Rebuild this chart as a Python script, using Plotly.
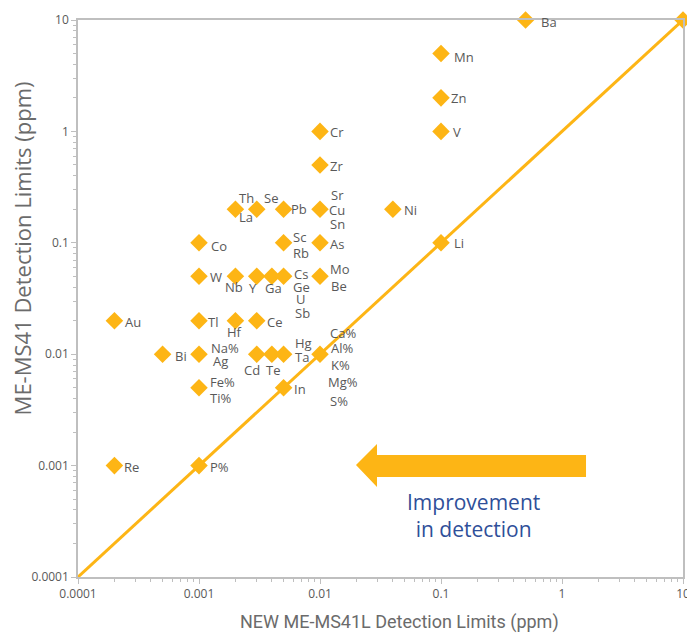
import numpy as np
import plotly.graph_objects as go

# ---- data ----
point_x = [10, 0.5, 0.1, 0.1, 0.1, 0.01, 0.01, 0.01, 0.04, 0.01, 0.1, 0.01,
           0.005, 0.002, 0.003, 0.001, 0.005, 0.001, 0.002, 0.003, 0.004, 0.005,
           0.0002, 0.001, 0.002, 0.003, 0.0005, 0.001, 0.003, 0.004, 0.005, 0.01,
           0.001, 0.005, 0.0002, 0.001]
point_y = [10, 10, 5, 2, 1, 1, 0.5, 0.2, 0.2, 0.1, 0.1, 0.05,
           0.2, 0.2, 0.2, 0.1, 0.1, 0.05, 0.05, 0.05, 0.05, 0.05,
           0.02, 0.02, 0.02, 0.02, 0.01, 0.01, 0.01, 0.01, 0.01, 0.01,
           0.005, 0.005, 0.001, 0.001]
point_labels = [["B"], ["Ba"], ["Mn"], ["Zn"], ["V"], ["Cr"], ["Zr"], ["Sr", "Cu", "Sn"],
                ["Ni"], ["As"], ["Li"], ["Mo", "Be"],
                ["Pb"], ["Th", "La"], ["Se"], ["Co"], ["Sc", "Rb"], ["W"], ["Nb"], ["Y"],
                ["Ga"], ["Cs", "Ge", "U", "Sb"],
                ["Au"], ["Tl"], ["Hf"], ["Ce"], ["Bi"], ["Na%", "Ag"], ["Cd"], ["Te"],
                ["Hg", "Ta"], ["Ca%", "Al%", "K%", "Mg%", "S%"],
                ["Fe%", "Ti%"], ["In"], ["Re"], ["P%"]]
parity_x = [0.0001, 10]
parity_y = [0.0001, 10]
tick_vals = [0.0001, 0.001, 0.01, 0.1, 1, 10]
tick_text = ["0.0001", "0.001", "0.01", "0.1", "1", "10"]
minor_vals = [m * d for d in [0.0001, 0.001, 0.01, 0.1, 1] for m in range(2, 10)]

x_title = "NEW ME-MS41L Detection Limits (ppm)"
y_title = "ME-MS41 Detection Limits (ppm)"
note_text = "Improvement<br>in detection"

# ---- label placement (pixels: left-edge dx, downward dy; "c" = centred) ----
label_offsets = {
    "B": (10, 2), "Ba": (13, 2), "Mn": (11, 3), "Zn": (8, 0), "V": (10, 1),
    "Cr": (8, 1), "Zr": (8, 1), "Sr": (9, -14), "Cu": (7, 1), "Sn": (8, 15),
    "Ni": (9, 1), "As": (8, 1), "Li": (11, 0), "Mo": (8, -7), "Be": (9, 10),
    "Pb": (5, 0), "Th": (2, -11), "La": (2, 8), "Se": (5, -11), "Co": (10, 3),
    "Sc": (7, -6), "Rb": (7, 10), "W": (9, 1), "Nb": ("c", -1, 11),
    "Y": ("c", -4, 12), "Ga": ("c", 2, 12), "Cs": (8, -2), "Ge": (7, 11),
    "U": (10, 23), "Sb": (9, 37), "Au": (9, 1), "Tl": (7, 1), "Hf": ("c", -1, 11),
    "Ce": (8, 1), "Bi": (10, 2), "Na%": (10, -6), "Ag": (12, 7),
    "Cd": ("c", -5, 16), "Te": ("c", 1, 16), "Hg": (9, -11), "Ta": (9, 3),
    "Ca%": (8, -21), "Al%": (9, -6), "K%": (9, 11), "Mg%": (6, 28), "S%": (8, 47),
    "Fe%": (9, -6), "Ti%": (9, 10), "In": (8, 1), "Re": (8, 1), "P%": (9, 1),
}

ORANGE = "#FDB515"
GREY_TXT = "#595959"
TITLE_GREY = "#6B6B6B"
AXIS_GREY = "#BFBFBF"
FONT = "Open Sans"

fig = go.Figure()
fig.add_trace(go.Scatter(x=parity_x, y=parity_y, mode="lines",
                         line=dict(color=ORANGE, width=3), hoverinfo="skip",
                         showlegend=False, cliponaxis=False))
fig.add_trace(go.Scatter(x=point_x, y=point_y, mode="markers",
                         marker=dict(symbol="diamond", size=13.5, color=ORANGE,
                                     line=dict(width=0)),
                         showlegend=False, cliponaxis=False))

annotations = []
for px, py, labs in zip(point_x, point_y, point_labels):
    for lab in labs:
        off = label_offsets[lab]
        if off[0] == "c":
            xanchor, dx, dy = "center", off[1], off[2]
        else:
            xanchor, dx, dy = "left", off[0], off[1]
        annotations.append(dict(
            x=np.log10(px), y=np.log10(py), xref="x", yref="y", text=lab,
            showarrow=False, xanchor=xanchor, yanchor="middle",
            xshift=dx, yshift=-dy,
            font=dict(family=FONT, size=13, color=GREY_TXT)))

annotations.append(dict(
    x=0.653, y=0.11, xref="paper", yref="paper",
    text=note_text, showarrow=False,
    xanchor="center", yanchor="middle", align="center",
    font=dict(family=FONT, size=21, color="#2F4F99")))

# axis titles (placed as in the reference)
annotations.append(dict(
    x=0.532, y=-0.081, xref="paper", yref="paper", text=x_title,
    showarrow=False, xanchor="center", yanchor="middle",
    font=dict(family="Roboto", size=18, color=TITLE_GREY)))
annotations.append(dict(
    x=-0.0925, y=0.59, xref="paper", yref="paper", text=y_title,
    showarrow=False, xanchor="center", yanchor="middle", textangle=-90,
    font=dict(family=FONT, size=22, color=TITLE_GREY)))

# block arrow (paper coordinates)
arrow_path = ("M 0.4595 0.2011 L 0.4942 0.2388 L 0.4942 0.2190 L 0.8397 0.2190 "
              "L 0.8397 0.1795 L 0.4942 0.1795 L 0.4942 0.1616 Z")

axis_common = dict(
    type="log", tickmode="array", tickvals=tick_vals, ticktext=tick_text,
    showline=True, linecolor=AXIS_GREY, linewidth=1.5, mirror=True,
    showgrid=False, zeroline=False, automargin=False,
    ticks="outside", ticklen=5, tickcolor=AXIS_GREY, tickwidth=1.2,
    minor=dict(tickmode="array", tickvals=minor_vals, ticks="outside",
               ticklen=3, tickcolor=AXIS_GREY, tickwidth=1.2, showgrid=False),
    tickfont=dict(family=FONT, size=12, color=GREY_TXT),
    range=[-4, 1],
)

# page body adds an 8px offset; size the figure so the plot area lands where the reference has it
fig.update_layout(
    width=687, height=627,
    margin=dict(l=70, r=12, t=12, b=58, autoexpand=False),
    paper_bgcolor="white", plot_bgcolor="white",
    xaxis=dict(**axis_common),
    yaxis=dict(**axis_common),
    annotations=annotations,
    shapes=[dict(type="path", path=arrow_path, xref="paper", yref="paper",
                 fillcolor=ORANGE, line=dict(width=0))],
)

fig.write_html("out.html")
